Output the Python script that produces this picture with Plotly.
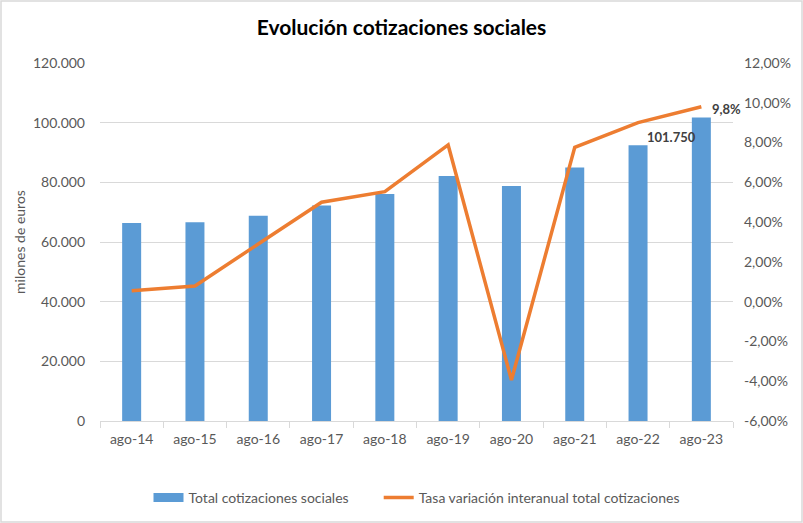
import plotly.graph_objects as go

categories = ["ago-14", "ago-15", "ago-16", "ago-17", "ago-18",
              "ago-19", "ago-20", "ago-21", "ago-22", "ago-23"]
cotizaciones = [66400, 66600, 68800, 72200, 76100, 82100, 78800, 85000, 92400, 101750]
tasa = [0.55, 0.79, 2.9, 5.0, 5.53, 7.88, -3.94, 7.76, 9.0, 9.8]
left_ticks = [0, 20000, 40000, 60000, 80000, 100000, 120000]
right_ticks = [-6, -4, -2, 0, 2, 4, 6, 8, 10, 12]

FONT = "Lato, Open Sans, sans-serif"
GREY = "#595959"
BLUE = "#5b9bd5"
ORANGE = "#ed7d31"

right_text = [f"{v:.2f}%".replace(".", ",") for v in right_ticks]

fig = go.Figure()
fig.add_trace(go.Bar(
    x=categories, y=cotizaciones, name="Total cotizaciones sociales",
    marker=dict(color=BLUE, line=dict(width=0)), width=0.3, yaxis="y",
    showlegend=False,
))
# legend entry drawn as a wide blue block, like the reference
fig.add_trace(go.Scatter(
    x=[None], y=[None], name="Total cotizaciones sociales" + "\u00a0" * 7, mode="lines",
    line=dict(color=BLUE, width=9), yaxis="y",
))
fig.add_trace(go.Scatter(
    x=categories, y=tasa, name="Tasa variación interanual total cotizaciones",
    mode="lines", line=dict(color=ORANGE, width=3.5), yaxis="y2",
))

last_val = f"{cotizaciones[-1]:,}".replace(",", ".")
last_rate = f"{tasa[-1]:.1f}%".replace(".", ",")

fig.update_layout(
    width=803, height=523,
    margin=dict(l=100, r=70, t=63, b=102, autoexpand=False),
    paper_bgcolor="white", plot_bgcolor="white",
    separators=",.",
    font=dict(family=FONT, size=13, color=GREY),
    title=dict(text="<b>Evolución cotizaciones sociales</b>", x=0.5, xanchor="center",
               y=0.947, yanchor="middle", font=dict(size=21, color="black")),
    xaxis=dict(type="category", showgrid=False, showline=True, linecolor="#d9d9d9",
               ticks="outside", tickson="boundaries", ticklen=6, tickcolor="#d9d9d9",
               ticklabelstandoff=5,
               tickfont=dict(size=14, color=GREY), range=[-0.5, 9.5], automargin=False),
    yaxis=dict(range=[0, 120000], tickvals=left_ticks, tickformat=",d",
               showgrid=True, gridcolor="#d9d9d9", gridwidth=1, zeroline=False,
               showline=False, ticks="", ticklabelstandoff=14, automargin=False,
               tickfont=dict(size=14, color=GREY),
               title=dict(text="milones de euros", font=dict(size=14, color=GREY), standoff=4)),
    yaxis2=dict(range=[-6, 12], tickvals=right_ticks, ticktext=right_text,
                overlaying="y", side="right", showgrid=False, zeroline=False,
                showline=False, ticks="", ticklabelstandoff=10, automargin=False,
                tickfont=dict(size=14, color=GREY)),
    legend=dict(orientation="h", x=0.5, xanchor="center", y=-0.17, yanchor="top",
                font=dict(size=14, color=GREY), tracegroupgap=0, itemwidth=30),
    annotations=[
        dict(x=categories[-1], y=tasa[-1], xref="x", yref="y2", text=f"<b>{last_rate}</b>",
             showarrow=False, xshift=25, yshift=-2, font=dict(size=13, color="#404040")),
        dict(x=categories[-1], y=cotizaciones[-1], xref="x", yref="y", text=f"<b>{last_val}</b>",
             showarrow=False, xshift=-30, yshift=-20, font=dict(size=13, color="#404040")),
    ],
    shapes=[dict(type="rect", xref="paper", yref="paper",
                 x0=-99/633, x1=1+69/633, y0=-101/358, y1=1+62/358,
                 line=dict(color="#d9d9d9", width=1.5), fillcolor="rgba(0,0,0,0)")],
)

fig.write_html("out.html", config={"displayModeBar": False},
               post_script="document.body.style.margin='0';")
